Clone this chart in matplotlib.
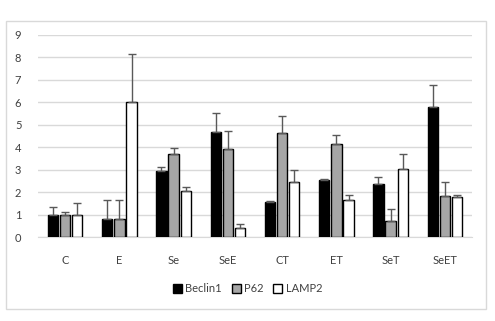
import numpy as np
import matplotlib.pyplot as plt
from matplotlib.patches import Rectangle

# データ
groups = ["C", "E", "Se", "SeE", "CT", "ET", "SeT", "SeET"]
beclin1 = [1.0, 0.8, 2.96, 4.68, 1.58, 2.57, 2.36, 5.79]
p62 = [1.0, 0.8, 3.7, 3.92, 4.64, 4.17, 0.73, 1.83]
lamp2 = [1.0, 6.0, 2.04, 0.4, 2.45, 1.65, 3.04, 1.78]
beclin1_err = [0.35, 0.85, 0.17, 0.87, 0.02, 0.02, 0.34, 0.98]
p62_err = [0.13, 0.85, 0.26, 0.81, 0.75, 0.4, 0.54, 0.62]
lamp2_err = [0.54, 2.15, 0.18, 0.18, 0.55, 0.22, 0.66, 0.12]

plt.rcParams['font.family'] = ['Lato', 'DejaVu Sans']

fig = plt.figure(figsize=(4.95, 3.21), dpi=100)
ax = fig.add_axes([0.0768, 0.2607, 0.8767, 0.6303])

# 外枠
fig.patches.append(Rectangle((6 / 495, 1 - 309 / 321), 480 / 495, 288 / 321,
                             transform=fig.transFigure, fill=False,
                             edgecolor="#d9d9d9", linewidth=1))

x = np.arange(len(groups))
w = 0.19
off = 0.225
series = [(beclin1, beclin1_err, "black", "Beclin1"),
          (p62, p62_err, "#a6a6a6", "P62"),
          (lamp2, lamp2_err, "white", "LAMP2")]
for i, (vals, errs, col, lab) in enumerate(series):
    ax.bar(x + (i - 1) * off, vals, width=w, color=col, edgecolor="black",
           linewidth=1, label=lab, zorder=3,
           yerr=[np.zeros(len(errs)), errs],
           error_kw=dict(ecolor="#595959", elinewidth=1, capsize=3, capthick=1, zorder=4))

ax.set_xlim(-0.5, len(groups) - 0.5)
ax.set_ylim(0, 9)
ax.set_yticks(range(10))
ax.set_xticks(x)
ax.set_xticklabels(groups)
ax.tick_params(length=0, labelsize=8, colors="#404040")
ax.tick_params(axis="x", pad=13)
ax.tick_params(axis="y", pad=12)
ax.grid(True, axis="y", color="#d9d9d9", linewidth=1, zorder=0)
for s in ["top", "right", "left"]:
    ax.spines[s].set_visible(False)
ax.spines["bottom"].set_color("#d9d9d9")

fig.legend(loc="center", bbox_to_anchor=(0.5, 1 - 289 / 321), ncol=3,
           frameon=False, fontsize=8, handlelength=0.8, handleheight=0.8,
           handletextpad=0.3, columnspacing=0.9, labelcolor="#404040")

plt.savefig("out.png", dpi=100)
